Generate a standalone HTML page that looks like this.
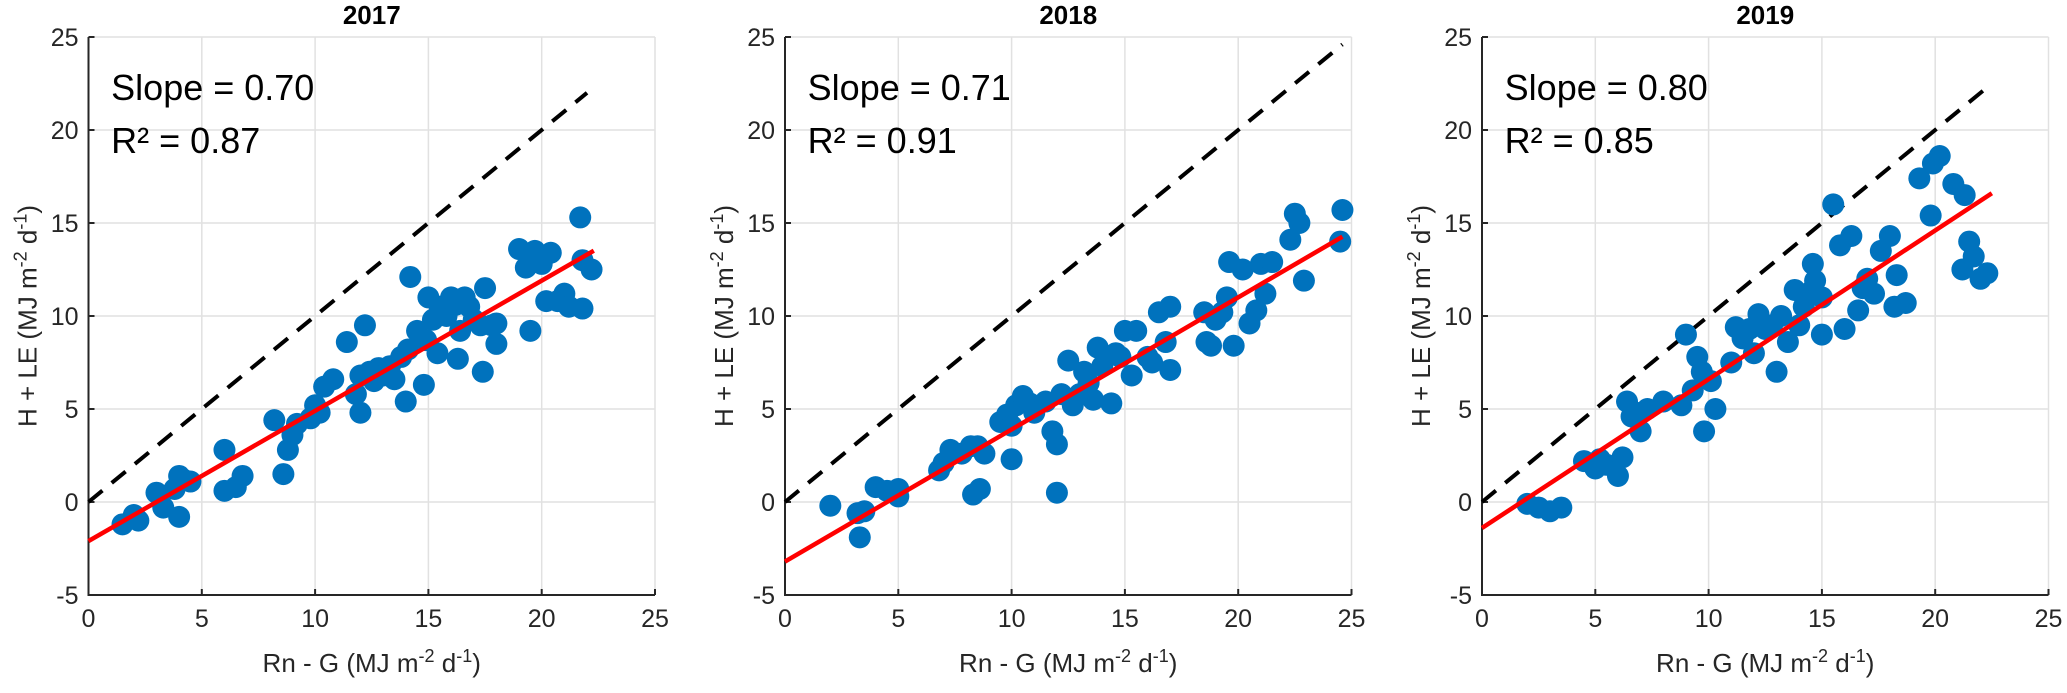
<!DOCTYPE html>
<html><head><meta charset="utf-8"><style>
body{margin:0;background:#fff;width:2067px;height:688px;overflow:hidden}
svg{font-family:"Liberation Sans",sans-serif}
</style></head><body>
<svg id="chart" width="2067" height="688"></svg>
<script>
const years=["2017","2018","2019"];
const slopes=["0.70","0.71","0.80"];
const r2s=["0.87","0.91","0.85"];
const fitSlope=[0.70,0.71,0.80];
const fitIntercept=[-2.1,-3.2,-1.4];
const fitMax=[22.3,24.6,22.5];
const oneToOneMax=[22,24.6,22.5];
const xTicks=[0,5,10,15,20,25];
const yTicks=[-5,0,5,10,15,20,25];
const x2017=[1.5,2,2.2,3,3.3,3.8,4,4.2,4,4.5,6,6,6.5,6.8,8.2,8.6,8.8,9,9.2,9.8,10,10.2,10.4,10.8,11.4,11.8,12,12,12.2,12.4,12.6,12.8,13,13.3,13.5,13.8,14,14.1,14.2,14.5,14.8,14.9,15,15.2,15.4,15.5,15.8,16,16.2,16.3,16.4,16.6,16.8,17,17.3,17.4,17.5,17.8,18,18,19,19.3,19.5,19.7,20,20.2,20.4,20.7,21,21.2,21.7,21.8,21.8,22.2];
const y2017=[-1.2,-0.7,-1,0.5,-0.3,0.7,1.4,1.2,-0.8,1.1,0.6,2.8,0.8,1.4,4.4,1.5,2.8,3.6,4.2,4.5,5.2,4.8,6.2,6.6,8.6,5.8,4.8,6.8,9.5,7,6.5,7.2,6.8,7.3,6.6,7.8,5.4,8.2,12.1,9.2,6.3,8.7,11,9.8,8,10.5,10,11,10.6,7.7,9.2,11,10.5,9.8,9.5,7,11.5,9.5,8.5,9.6,13.6,12.6,9.2,13.5,12.8,10.8,13.4,10.8,11.2,10.5,15.3,10.4,13,12.5];
const x2018=[2,3.2,3.3,3.5,4,4.5,5,5,6.8,7,7.3,7.8,8.2,8.3,8.6,8.5,8.8,9.5,9.8,10,10,10.2,10.5,10.8,11,11.5,11.8,12,12,12.2,12.5,12.7,13,13.2,13.4,13.6,13.8,14,14.2,14.4,14.6,14.8,15,15.3,15.5,16,16.2,16.5,16.8,17,17,18.5,18.6,18.8,19,19.3,19.5,19.6,19.8,20.2,20.5,20.8,21,21.2,21.5,22.3,22.5,22.7,22.9,24.6,24.5];
const y2018=[-0.2,-0.6,-1.9,-0.5,0.8,0.6,0.3,0.7,1.7,2.1,2.8,2.6,3,0.4,0.7,3,2.6,4.3,4.7,4.1,2.3,5.2,5.7,5.3,4.8,5.4,3.8,0.5,3.1,5.8,7.6,5.2,5.8,7,6.4,5.5,8.3,7.3,7.8,5.3,8,7.8,9.2,6.8,9.2,7.8,7.5,10.2,8.6,10.5,7.1,10.2,8.6,8.4,9.8,10.2,11,12.9,8.4,12.5,9.6,10.3,12.8,11.2,12.9,14.1,15.5,15,11.9,15.7,14];
const x2019=[2,2.5,3,3.5,4.5,5,5.2,5.5,6,6.2,6.4,6.6,6.8,7,7.3,8,8.8,9,9.3,9.5,9.7,9.8,10.1,10.3,11,11.2,11.5,11.8,12,12.2,12.5,12.8,13,13.2,13.5,13.8,14,14.2,14.5,14.6,14.7,15,15,15.5,15.8,16,16.3,16.6,16.8,17,17.3,17.6,18,18.2,18.3,18.7,19.3,19.8,19.9,20.2,20.8,21.2,21.3,21.5,21.7,22,22.3];
const y2019=[-0.1,-0.3,-0.5,-0.3,2.2,1.8,2.3,2,1.4,2.4,5.4,4.6,4.8,3.8,5,5.4,5.2,9,6,7.8,7,3.8,6.5,5,7.5,9.4,8.8,9.3,8,10.1,9.3,9.5,7,10,8.6,11.4,9.5,10.5,11.3,12.8,11.9,11,9,16,13.8,9.3,14.3,10.3,11.5,12,11.2,13.5,14.3,10.5,12.2,10.7,17.4,15.4,18.2,18.6,17.1,12.5,16.5,14,13.2,12,12.3];
const xs=[x2017,x2018,x2019], ys=[y2017,y2018,y2019];

const NS="http://www.w3.org/2000/svg";
const svg=document.getElementById('chart');
function mk(tag,attrs,parent,text){const e=document.createElementNS(NS,tag);for(const k in attrs)e.setAttribute(k,attrs[k]);if(text!==undefined)e.textContent=text;(parent||svg).appendChild(e);return e;}
const x0s=[88.5,785,1482];
const pxPerX=22.66, yZero=502, pxPerY=18.6;
for(let p=0;p<3;p++){
  const g=mk('g',{});
  
  
  const X=v=>x0s[p]+v*pxPerX, Y=v=>yZero-v*pxPerY;
  xTicks.forEach(t=>{const l=mk('line',{x1:X(t),x2:X(t),y1:Y(25),y2:Y(-5),stroke:'#e1e1e1','stroke-width':1.5},g);
    });
  yTicks.forEach(t=>{const l=mk('line',{x1:X(0),x2:X(25),y1:Y(t),y2:Y(t),stroke:'#e1e1e1','stroke-width':1.5},g);
    });
  const ax=mk('path',{d:`M${X(0)},${Y(25)}V${Y(-5)}H${X(25)}`,fill:'none',stroke:'#262626','stroke-width':2},g);
  
  xTicks.forEach(t=>{mk('line',{x1:X(t),x2:X(t),y1:Y(-5),y2:Y(-5)-6,stroke:'#262626','stroke-width':2},g);
    const tx=mk('text',{x:X(t),y:Y(-5)+32,'text-anchor':'middle','font-size':25,fill:'#262626'},g,String(t));
    });
  yTicks.forEach(t=>{mk('line',{x1:X(0),x2:X(0)+6,y1:Y(t),y2:Y(t),stroke:'#262626','stroke-width':2},g);
    const tx=mk('text',{x:X(0)-10,y:Y(t)+9,'text-anchor':'end','font-size':25,fill:'#262626'},g,String(t));
    });
  const ones=mk('line',{x1:X(0),y1:Y(0),x2:X(oneToOneMax[p]),y2:Y(oneToOneMax[p]),stroke:'#000','stroke-width':4,'stroke-dasharray':'18,12'},g);
  
  xs[p].forEach((v,i)=>{const c=mk('circle',{cx:X(v),cy:Y(ys[p][i]),r:11,fill:'#0072bd'},g);
    });
  const fit=mk('line',{x1:X(0),y1:Y(fitIntercept[p]),x2:X(fitMax[p]),y2:Y(fitIntercept[p]+fitSlope[p]*fitMax[p]),stroke:'#ff0000','stroke-width':4.5},g);
  
  const ti=mk('text',{x:X(12.5),y:24,'text-anchor':'middle','font-size':26,'font-weight':'bold',fill:'#000'},g,years[p]);
  
  const s=mk('text',{x:X(1.0),y:100,'font-size':36,fill:'#000'},g,'Slope = '+slopes[p]);
  
  const r=mk('text',{x:X(1.0),y:153,'font-size':36,fill:'#000'},g,'R² = '+r2s[p]);
  
  const xl=mk('text',{x:X(12.5),y:672,'text-anchor':'middle','font-size':26,fill:'#262626'},g);
  
  xl.innerHTML='Rn - G (MJ m<tspan dy="-10" font-size="18">-2</tspan><tspan dy="10"> d</tspan><tspan dy="-10" font-size="18">-1</tspan><tspan dy="10">)</tspan>';
  const yl=mk('text',{x:0,y:0,'text-anchor':'middle','font-size':26,fill:'#262626',transform:`translate(${x0s[p]-52},${Y(10)}) rotate(-90)`},g);
  
  yl.innerHTML='H + LE (MJ m<tspan dy="-10" font-size="18">-2</tspan><tspan dy="10"> d</tspan><tspan dy="-10" font-size="18">-1</tspan><tspan dy="10">)</tspan>';
}
</script>
</body></html>
